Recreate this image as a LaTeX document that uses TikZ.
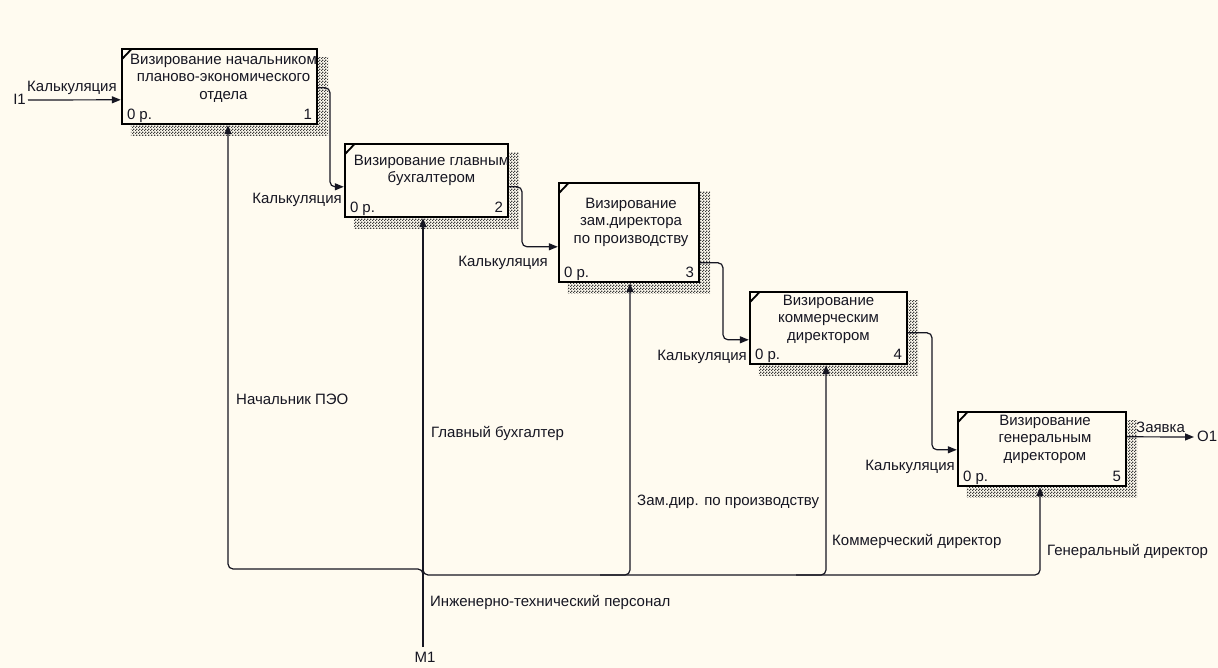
\documentclass[tikz,border=0pt]{standalone}
\usepackage{fontspec}
\setmainfont{Liberation Sans}
\usetikzlibrary{arrows.meta,calc,patterns}

\definecolor{paper}{RGB}{255,251,240}
\definecolor{ink}{RGB}{22,22,34}
\definecolor{hatch}{RGB}{60,60,60}

% small checkerboard used for the activity shadows
\pgfdeclarepatternformonly{finechecks}{\pgfqpoint{0pt}{0pt}}{\pgfqpoint{3pt}{3pt}}{\pgfqpoint{3pt}{3pt}}{%
  \pgfpathrectangle{\pgfqpoint{0pt}{0pt}}{\pgfqpoint{1.5pt}{1.5pt}}%
  \pgfpathrectangle{\pgfqpoint{1.5pt}{1.5pt}}{\pgfqpoint{1.5pt}{1.5pt}}%
  \pgfusepath{fill}}

\begin{document}
\begin{tikzpicture}[x=1pt,y=-1pt,
  proc/.style={draw=black, line width=2.4pt, fill=paper, inner sep=0pt, outer sep=0pt},
  shade/.style={pattern=finechecks, pattern color=hatch},
  flow/.style={draw=ink, line width=1.2pt, rounded corners=5pt},
  tip/.style={-{Triangle[length=9pt,width=7pt]}},
  txt/.style={font=\fontsize{15}{17.5}\selectfont, text=ink, inner sep=0pt},
  boxtxt/.style={txt, align=center, anchor=north},
  tick/.style={draw=black, line width=1.8pt}]

% canvas
\fill[paper] (0,0) rectangle (1218,668);
\useasboundingbox (0,0) rectangle (1218,668);

% activity boxes
\path (219.5,86.5) node[minimum width=197pt, minimum height=77pt] (b1) {};
\path (426.5,180.5) node[minimum width=165pt, minimum height=75pt] (b2) {};
\path (629,232.5)  node[minimum width=142pt, minimum height=101pt] (b3) {};
\path (828.5,328)  node[minimum width=159pt, minimum height=74pt] (b4) {};
\path (1042,449)   node[minimum width=170pt, minimum height=76pt] (b5) {};

% shadows, then the boxes over them
\foreach \b in {b1,b2,b3,b4,b5}{
  \fill[shade] ($(\b.north west)+(10,10)$) rectangle ($(\b.south east)+(10,10)$);
  \draw[proc] ($(\b.north west)+(1.2,1.2)$) rectangle ($(\b.south east)+(-1.2,-1.2)$);
  \draw[tick] ($(\b.north west)+(1.5,11)$) -- ($(\b.north west)+(10.5,1.5)$);
}

% box texts
\node[boxtxt] (t1) at ($(b1.north)+(4,6)$) {Визирование начальником\\планово-экономического\\отдела};
\node[boxtxt] (t2) at ($(b2.north)+(5,12)$) {Визирование главным\\бухгалтером};
\node[boxtxt] (t3) at ($(b3.north)+(2,16)$) {Визирование\\зам.директора\\по производству};
\node[boxtxt] (t4) at ($(b4.north)+(0,4)$) {Визирование\\коммерческим\\директором};
\node[boxtxt] (t5) at ($(b5.north)+(3,4)$) {Визирование\\генеральным\\директором};

% cost and number corners
\foreach \b/\n in {b1/1,b2/2,b3/3,b4/4,b5/5}{
  \node[txt, anchor=mid west] (c\b) at ($(\b.south west)+(6,-8)$) {0 р.};
  \node[txt, anchor=mid east] (n\b) at ($(\b.south east)+(-6,-8)$) {\n};
}

% connection points on the boxes
\coordinate (b1i) at ($(b1.north west)+(0,52)$);
\coordinate (b1o) at ($(b1.north east)+(0,40)$);
\coordinate (b2i) at ($(b2.north west)+(0,44)$);
\coordinate (b2o) at ($(b2.north east)+(0,44)$);
\coordinate (b3i) at ($(b3.north west)+(0,65)$);
\coordinate (b3o) at ($(b3.north east)+(0,81)$);
\coordinate (b4i) at ($(b4.north west)+(0,49)$);
\coordinate (b4o) at ($(b4.north east)+(0,42)$);
\coordinate (b5i) at ($(b5.north west)+(0,39)$);
\coordinate (b5o) at ($(b5.north east)+(0,26)$);
\coordinate (b1c) at ($(b1.south)+(8.5,0)$);
\coordinate (b2c) at ($(b2.south)+(-3.5,0)$);
\coordinate (b3c) at ($(b3.south)+(1,0)$);
\coordinate (b4c) at ($(b4.south)+(-2.5,0)$);
\coordinate (b5c) at ($(b5.south)+(-2,0)$);

% boundary ends and bends
\coordinate (i1) at (28,100);
\coordinate (o1) at (1194,437);
\coordinate (m1) at (423,647);
\coordinate (k12) at (330,0);
\coordinate (k23) at (522,0);
\coordinate (k34) at (723,0);
\coordinate (k45) at (932,0);
\coordinate (busL) at (423,569);
\coordinate (busR) at (423,575);

% input and outputs
\draw[flow,tip] (i1) -- (b1i);
\draw[flow,tip] (b1o) -- (b1o -| k12) -- (k12 |- b2i) -- (b2i);
\draw[flow,tip] (b2o) -- (b2o -| k23) -- (k23 |- b3i) -- (b3i);
\draw[flow,tip] (b3o) -- (b3o -| k34) -- (k34 |- b4i) -- (b4i);
\draw[flow,tip] (b4o) -- (b4o -| k45) -- (k45 |- b5i) -- (b5i);
\draw[flow,tip] (b5o) -- (o1);

% mechanisms
\draw[flow,tip] (m1) -- (b2c);
\draw[flow,tip] ($(busL)+(0,16)$) -- (busL) -| (b1c);
\draw[flow,tip] ($(busR)+(0,-9)$) -- (busR) -| (b5c);
\draw[flow,tip] ($(busR -| b3c)+(-30,0)$) -| (b3c);
\draw[flow,tip] ($(busR -| b4c)+(-30,0)$) -| (b4c);

% arrow labels
\node[txt, anchor=mid west] (l0) at (27,89) {Калькуляция};
\node[txt, anchor=mid east] (l2) at (342,201) {Калькуляция};
\node[txt, anchor=mid east] (l3) at (548,264) {Калькуляция};
\node[txt, anchor=mid east] (l4) at (747,358) {Калькуляция};
\node[txt, anchor=mid east] (l5) at (955,468) {Калькуляция};
\node[txt, anchor=mid west] (lz) at (1136,430) {Заявка};
\node[txt, anchor=mid east] (li1) at (26,102) {I1};
\node[txt, anchor=mid west] (lo1) at (1197,439) {O1};
\node[txt, anchor=north] (lm1) at (425,652) {M1};

\node[txt, anchor=mid west] (r1) at (236,402) {Начальник ПЭО};
\node[txt, anchor=mid west] (r2) at (431,435) {Главный бухгалтер};
\node[txt, anchor=mid west] (r3) at (637,503) {Зам.дир. по производству};
\node[txt, anchor=mid west] (r4) at (832,543) {Коммерческий директор};
\node[txt, anchor=mid west] (r5) at (1047,553) {Генеральный директор};
\node[txt, anchor=mid west] (r6) at (430,604) {Инженерно-технический персонал};
\end{tikzpicture}
\end{document}
